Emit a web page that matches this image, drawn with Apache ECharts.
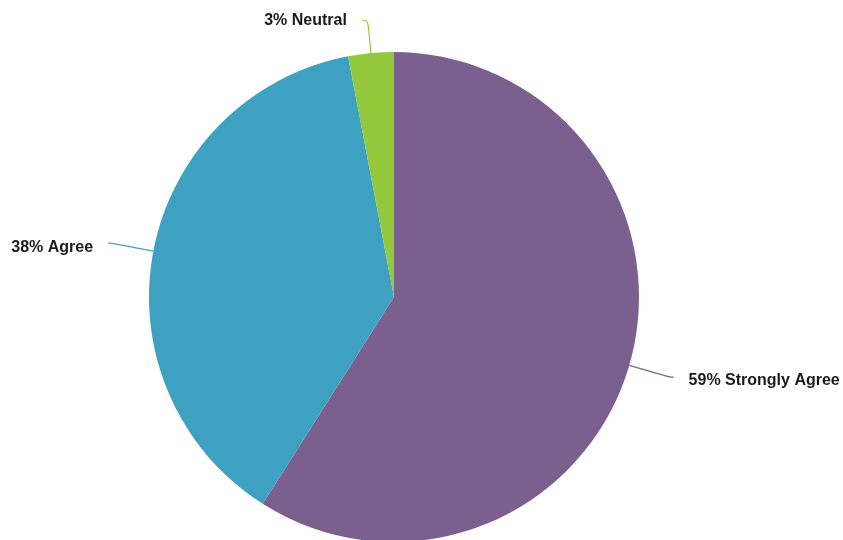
<!DOCTYPE html>
<html>
<head>
<meta charset="utf-8">
<script src="https://cdn.jsdelivr.net/npm/echarts@6/dist/echarts.min.js"></script>
<style>
  html, body { margin: 0; padding: 0; background: #fff; }
  #chart { width: 843px; height: 540px; }
</style>
</head>
<body>
<div id="chart"></div>
<script>
var categories = ['Strongly Agree', 'Agree', 'Neutral'];
var values = [59, 38, 3];
var colors = ['#7b5f8e', '#3fa1c1', '#94c83d'];

var chart = echarts.init(document.getElementById('chart'));

var pieData = categories.map(function (name, i) {
  var d = { name: name, value: values[i], itemStyle: { color: colors[i] } };
  // neutral leader is a bit shorter in the original
  if (name === 'Neutral') d.labelLine = { length: 33, length2: 6 };
  return d;
});

var option = {
  animation: false,
  series: [{
    type: 'pie',
    center: [394, 297],
    radius: 245,
    startAngle: 90,
    clockwise: true,
    data: pieData,
    label: {
      show: true,
      formatter: function (p) { return p.value + '% ' + p.name; },
      fontFamily: 'Liberation Sans, Arial, sans-serif',
      fontWeight: 'bold',
      fontSize: 16,
      color: '#1a1a1a',
      overflow: 'none',
      distanceToLabelLine: 15
    },
    labelLine: {
      show: true,
      length: 42,
      length2: 4,
      smooth: 0.4,
      lineStyle: { width: 1.2 }
    },
    labelLayout: function (p) {
      return p.dataIndex === 2 ? {} : { dy: 4 };
    },
    emphasis: { disabled: true }
  }]
};

chart.setOption(option);
</script>
</body>
</html>
